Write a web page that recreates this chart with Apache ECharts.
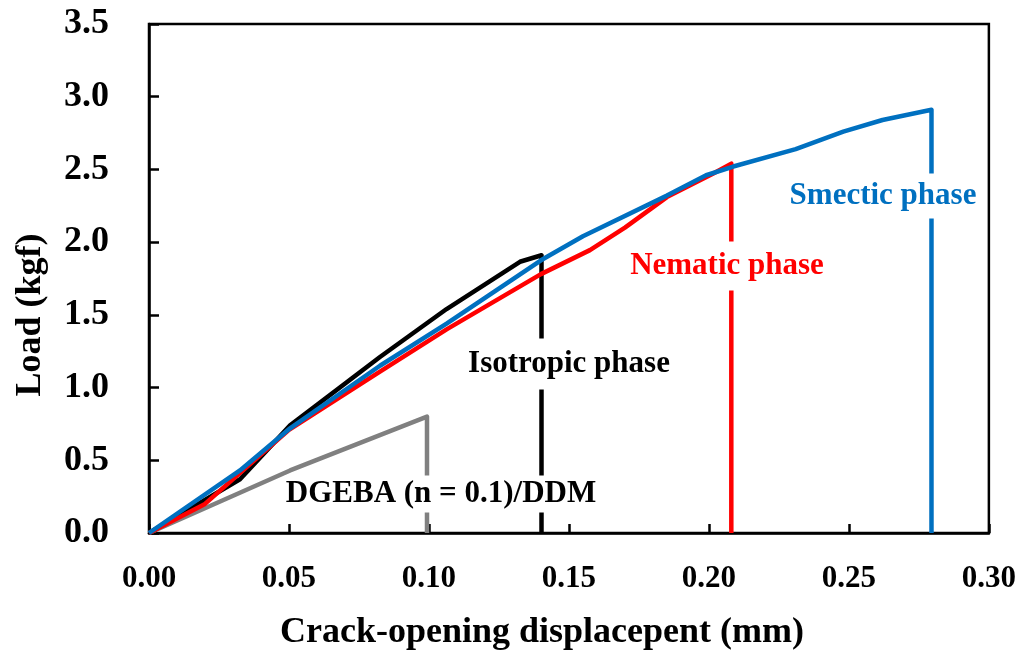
<!DOCTYPE html>
<html><head><meta charset="utf-8">
<script src="https://cdn.jsdelivr.net/npm/echarts@6/dist/echarts.min.js"></script>
<style>html,body{margin:0;padding:0;background:#fff}#c{width:1019px;height:653px}</style>
</head><body><div id="c"></div>
<script>
// ---- data ----
const xTicks = [0.00, 0.05, 0.10, 0.15, 0.20, 0.25, 0.30];
const yTicks = [0.0, 0.5, 1.0, 1.5, 2.0, 2.5, 3.0, 3.5];
const dgebaX = [0, 0.0504, 0.0993, 0.0993];
const dgebaY = [0, 0.43, 0.80, 0];
const isoX = [0, 0.0325, 0.0504, 0.0825, 0.1063, 0.1325, 0.1402, 0.1402];
const isoY = [0, 0.37, 0.74, 1.21, 1.54, 1.865, 1.91, 0];
const nemX = [0, 0.02, 0.05, 0.0825, 0.1063, 0.14, 0.1575, 0.17, 0.185, 0.2014, 0.208, 0.208];
const nemY = [0, 0.20, 0.71, 1.11, 1.40, 1.78, 1.945, 2.10, 2.31, 2.47, 2.54, 0];
const smeX = [0, 0.0325, 0.0504, 0.0825, 0.1063, 0.14, 0.155, 0.185, 0.199, 0.2087, 0.231, 0.248, 0.262, 0.2795, 0.2795];
const smeY = [0, 0.43, 0.72, 1.15, 1.44, 1.875, 2.04, 2.32, 2.46, 2.52, 2.64, 2.76, 2.84, 2.91, 0];
const seriesNames = ['DGEBA (n = 0.1)/DDM', 'Isotropic phase', 'Nematic phase', 'Smectic phase'];
const xTitle = 'Crack-opening displacepent (mm)';
const yTitle = 'Load (kgf)';

const pairs = (xs, ys) => xs.map((x, i) => [x, ys[i]]);
const FONT = '"Liberation Serif", "Times New Roman", serif';
const colors = ['#808080', '#000000', '#FF0000', '#0070C0'];
const chart = echarts.init(document.getElementById('c'), null, {renderer: 'canvas'});

const mk = (name, data, color) => ({
  name, type: 'line', data, showSymbol: false, symbol: 'none', animation: false,
  lineStyle: {color, width: 4.5, join: 'round', cap: 'butt'}, z: 3
});

const option = {
  backgroundColor: '#fff',
  animation: false,
  grid: {left: 149, right: 30, top: 24, bottom: 120, show: true, borderColor: '#000', borderWidth: 2.5, backgroundColor: 'transparent'},
  xAxis: {
    type: 'value', min: xTicks[0], max: xTicks[xTicks.length - 1], interval: 0.05,
    axisLine: {show: true, lineStyle: {color: '#000', width: 2.5}},
    axisTick: {show: true, inside: true, length: 9, lineStyle: {color: '#000', width: 2.5}},
    splitLine: {show: false},
    axisLabel: {margin: 30, color: '#000', fontFamily: FONT, fontWeight: 'bold', fontSize: 31,
      formatter: v => v.toFixed(2)}
  },
  yAxis: {
    type: 'value', min: yTicks[0], max: yTicks[yTicks.length - 1], interval: 0.5,
    axisLine: {show: true, lineStyle: {color: '#000', width: 2.5}},
    axisTick: {show: true, inside: true, length: 10, lineStyle: {color: '#000', width: 2.5}},
    splitLine: {show: false},
    axisLabel: {margin: 40, color: '#000', fontFamily: FONT, fontWeight: 'bold', fontSize: 36,
      formatter: v => v.toFixed(1)}
  },
  series: [
    mk(seriesNames[0], pairs(dgebaX, dgebaY), colors[0]),
    mk(seriesNames[1], pairs(isoX, isoY), colors[1]),
    mk(seriesNames[2], pairs(nemX, nemY), colors[2]),
    mk(seriesNames[3], pairs(smeX, smeY), colors[3])
  ],
  graphic: [
    {type: 'text', z: 100, x: 542, y: 633, style: {text: xTitle, fill: '#000', font: 'bold 36px ' + FONT, align: 'center', verticalAlign: 'middle'}},
    {type: 'text', z: 100, x: 31, y: 315, rotation: Math.PI / 2, style: {text: yTitle, fill: '#000', font: 'bold 36px ' + FONT, align: 'center', verticalAlign: 'middle'}},
    {type: 'text', z: 100, x: 441, y: 494, style: {text: seriesNames[0], fill: '#000', font: 'bold 31px ' + FONT, align: 'center', verticalAlign: 'middle', backgroundColor: '#fff', padding: [2, 1, 4, 1]}},
    {type: 'text', z: 100, x: 569, y: 364, style: {text: seriesNames[1], fill: '#000', font: 'bold 31px ' + FONT, align: 'center', verticalAlign: 'middle', backgroundColor: '#fff', padding: [10, 6]}},
    {type: 'text', z: 100, x: 727, y: 266, style: {text: seriesNames[2], fill: colors[2], font: 'bold 31px ' + FONT, align: 'center', verticalAlign: 'middle', backgroundColor: '#fff', padding: [9, 6]}},
    {type: 'text', z: 100, x: 883, y: 196, style: {text: seriesNames[3], fill: colors[3], font: 'bold 31px ' + FONT, align: 'center', verticalAlign: 'middle', backgroundColor: '#fff', padding: [7, 6]}}
  ]
};
chart.setOption(option);
</script></body></html>
